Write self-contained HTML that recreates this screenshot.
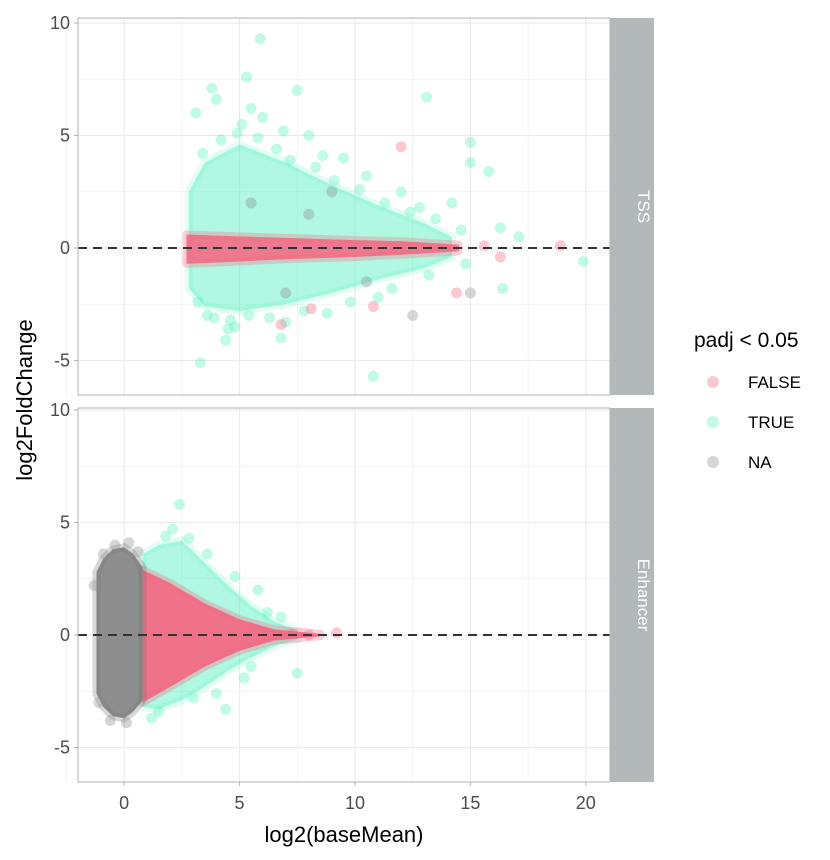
<!DOCTYPE html>
<html><head><meta charset="utf-8"><style>
body{margin:0;background:#fff;font-family:"Liberation Sans",sans-serif;}
svg text{font-family:"Liberation Sans",sans-serif;}
</style></head><body>
<svg id="chart" width="830" height="855" xmlns="http://www.w3.org/2000/svg"></svg>
<script>
// ---- data ----
const xTicks=[0,5,10,15,20];
const yTicks=[-5,0,5,10];
const tssTrueX=[2.8,3.5,5,7,9,11,13,14.2];
const tssTrueHi=[2.5,3.8,4.6,3.8,2.8,1.9,1.1,0.5];
const tssTrueLo=[-1.8,-2.6,-2.8,-2.5,-2.0,-1.4,-0.9,-0.4];
const tssFalseX=[2.7,4,7,10,12,14.5];
const tssFalseHi=[0.6,0.55,0.45,0.35,0.3,0.15];
const tssFalseLo=[-0.7,-0.65,-0.5,-0.4,-0.3,-0.15];
const enhNaX=[-1.2,-0.9,-0.5,0,0.4,0.8];
const enhNaHi=[2.8,3.4,3.8,3.9,3.6,3.0];
const enhNaLo=[-2.6,-3.2,-3.6,-3.7,-3.4,-2.9];
const enhTrueX=[0.8,1.5,2.5,3.5,4.5,5.5,6.5,7.5];
const enhTrueHi=[3.6,4.0,4.2,3.2,2.2,1.3,0.6,0.2];
const enhTrueLo=[-3.2,-3.3,-2.9,-2.3,-1.6,-1.0,-0.5,-0.2];
const enhFalseX=[0.8,2,3.5,5,6.5,8.5];
const enhFalseHi=[2.9,2.3,1.4,0.7,0.25,0.05];
const enhFalseLo=[-3.0,-2.3,-1.4,-0.7,-0.25,-0.05];
const tssTruePtsX=[5.9,5.3,3.8,4.0,7.5,13.1,15.0,15.0,15.8,10.8,3.3,3.1,6.8,4.4,17.1,19.9,16.4,8.0,6.0,5.5,9.5,12.0,14.2,16.3,11.0,4.8,3.6,8.8,
 3.4,4.2,4.9,5.8,6.6,7.2,8.3,9.1,10.2,11.3,12.4,13.5,14.6,3.2,3.9,4.6,5.4,6.3,7.8,9.8,11.6,13.2,14.8,5.1,6.9,8.6,10.5,12.8,4.5,7.0];
const tssTruePtsY=[9.3,7.6,7.1,6.6,7.0,6.7,4.7,3.8,3.4,-5.7,-5.1,6.0,-4.0,-4.1,0.5,-0.6,-1.8,5.0,5.8,6.2,4.0,2.5,2.0,0.9,-2.2,-3.5,-3.0,-2.9,
 4.2,4.8,5.1,4.9,4.4,3.9,3.6,3.0,2.6,2.0,1.6,1.3,0.8,-2.4,-3.1,-3.2,-3.0,-3.1,-2.8,-2.4,-1.8,-1.2,-0.7,5.5,5.2,4.1,3.2,1.8,-3.6,-3.3];
const tssFalsePtsX=[12.0,18.9,16.3,14.4,15.6,10.8,6.8,8.1];
const tssFalsePtsY=[4.5,0.1,-0.4,-2.0,0.1,-2.6,-3.4,-2.7];
const tssNaPtsX=[12.5,15.0,9.0,7.0,5.5,8.0,10.5];
const tssNaPtsY=[-3.0,-2.0,2.5,-2.0,2.0,1.5,-1.5];
const enhTruePtsX=[2.4,2.1,4.4,1.2,7.5,6.2,5.8,1.8,3.0,3.6,4.8,5.2,6.8,2.8,1.5,4.0,5.5];
const enhTruePtsY=[5.8,4.7,-3.3,-3.7,-1.7,1.0,2.0,4.4,-2.8,3.6,2.6,-1.9,0.8,4.3,-3.4,-2.6,-1.4];
const enhFalsePtsX=[9.2,8.0,7.3];
const enhFalsePtsY=[0.1,0.0,0.05];
const enhNaPtsX=[-1.3,-0.9,-0.4,0.2,0.6,-1.1,-0.6,0.1];
const enhNaPtsY=[2.2,3.6,4.0,4.1,3.7,-3.0,-3.8,-3.9];

// ---- layout ----
const svg=document.getElementById('chart');
const NS='http://www.w3.org/2000/svg';
const L=78,R=610;
const xs=v=>L+(v+2)*(R-L)/23.05;
const panels=[{top:18,bot:395,y0:248,name:'tss',label:'TSS'},{top:408,bot:782,y0:635,name:'enhancer',label:'Enhancer'}];
const ppu=22.5;
function el(t,a,p){const e=document.createElementNS(NS,t);for(const k in a)e.setAttribute(k,a[k]);(p||svg).appendChild(e);return e;}
const COL={F:'#f7637f',T:'#4ff0be',N:'#8a8a8a'};

panels.forEach((P,pi)=>{
  const ys=v=>P.y0-v*ppu;
  const g=el('g',{});
  
  
  el('rect',{x:L,y:P.top,width:R-L,height:P.bot-P.top,fill:'#fff'},g);
  for(let v=-5;v<=10;v+=2.5){if(ys(v)>P.top&&ys(v)<P.bot)el('line',{x1:L,x2:R,y1:ys(v),y2:ys(v),stroke:'#ebebeb','stroke-width':v%5===0?1.2:0.6},g);}
  for(let v=-2.5;v<=20;v+=2.5)el('line',{x1:xs(v),x2:xs(v),y1:P.top,y2:P.bot,stroke:'#ebebeb','stroke-width':v%5===0?1.2:0.6},g);
  function cloud(X,H,Lo,c,op,nm){
    let pts=X.map((x,i)=>xs(x)+','+ys(H[i])).concat(X.map((x,i)=>xs(x)+','+ys(Lo[i])).reverse());
    const p=el('polygon',{points:pts.join(' '),fill:c,'fill-opacity':op,stroke:c,'stroke-opacity':op*0.35,'stroke-width':8,'stroke-linejoin':'round'},g);
    
    
  }
  function pts(X,Y,c,nm){X.forEach((x,i)=>{const d=el('circle',{cx:xs(x),cy:ys(Y[i]),r:5.5,fill:c,'fill-opacity':0.35},g);
    
    });}
  if(pi===0){
    cloud(tssTrueX,tssTrueHi,tssTrueLo,COL.T,0.45,'tss-true-cloud');
    pts(tssNaPtsX,tssNaPtsY,COL.N,'tss-na-point');
    cloud(tssFalseX,tssFalseHi,tssFalseLo,COL.F,0.85,'tss-false-cloud');
    pts(tssTruePtsX,tssTruePtsY,COL.T,'tss-true-point');
    pts(tssFalsePtsX,tssFalsePtsY,COL.F,'tss-false-point');
  }else{
    cloud(enhTrueX,enhTrueHi,enhTrueLo,COL.T,0.45,'enh-true-cloud');
    pts(enhTruePtsX,enhTruePtsY,COL.T,'enh-true-point');
    cloud(enhFalseX,enhFalseHi,enhFalseLo,COL.F,0.9,'enh-false-cloud');
    cloud(enhNaX,enhNaHi,enhNaLo,'#7a7a7a',0.85,'enh-na-cloud');
    pts(enhNaPtsX,enhNaPtsY,COL.N,'enh-na-point');
    pts(enhFalsePtsX,enhFalsePtsY,COL.F,'enh-false-point');
  }
  const z=el('line',{x1:L,x2:R,y1:ys(0),y2:ys(0),stroke:'#333','stroke-width':2,'stroke-dasharray':'9,6'},g);
  
  
  el('rect',{x:L,y:P.top,width:R-L,height:P.bot-P.top,fill:'none',stroke:'#b3b3b3','stroke-width':1},g);
  const s=el('rect',{x:R,y:P.top,width:44,height:P.bot-P.top,fill:'#b3b9b8'});
  
  
  const st=el('text',{x:0,y:0,fill:'#fff','font-size':17,'text-anchor':'middle',transform:`translate(${R+22+6},${(P.top+P.bot)/2}) rotate(90)`});
  st.textContent=P.label;
  
  
  yTicks.forEach(v=>{const t=el('text',{x:L-8,y:ys(v)+6,'text-anchor':'end','font-size':18,fill:'#4d4d4d'});t.textContent=v;
    
    
    el('line',{x1:L-4,x2:L,y1:ys(v),y2:ys(v),stroke:'#b3b3b3'});});
});
xTicks.forEach(v=>{const t=el('text',{x:xs(v),y:809,'text-anchor':'middle','font-size':18,fill:'#4d4d4d'});t.textContent=v;
  
  
  el('line',{x1:xs(v),x2:xs(v),y1:782,y2:786,stroke:'#b3b3b3'});});
const xt=el('text',{x:344,y:842,'text-anchor':'middle','font-size':22,fill:'#000'});xt.textContent='log2(baseMean)';


const yt=el('text',{x:0,y:0,'text-anchor':'middle','font-size':22,fill:'#000',transform:'translate(32,400) rotate(-90)'});yt.textContent='log2FoldChange';


const lt=el('text',{x:694,y:347,'font-size':21,fill:'#000'});lt.textContent='padj < 0.05';


[['FALSE',COL.F],['TRUE',COL.T],['NA',COL.N]].forEach((e,i)=>{
  const c=el('circle',{cx:713,cy:382+i*40,r:6,fill:e[1],'fill-opacity':0.35});
  
  
  const t=el('text',{x:748,y:388+i*40,'font-size':17,fill:'#000'});t.textContent=e[0];
  
  
});
</script>
</body></html>
